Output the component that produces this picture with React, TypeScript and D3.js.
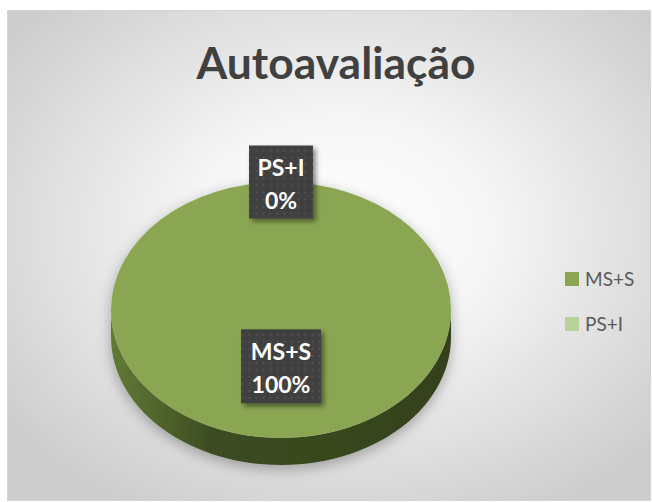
import * as d3 from "d3";

// chart data
const categories = ["MS+S", "PS+I"];
const values = [100, 0];
const colors = ["#8aa652", "#b9d19b"];
const title = "Autoavaliação";

const W = 652;
const H = 502;

export default function App() {
  const cx = 281;
  const cy = 310;
  const rx = 170;
  const ry = 128;
  const depth = 27;
  const k = ry / rx;

  const pie = d3.pie<number>().sort(null).startAngle(0).endAngle(2 * Math.PI);
  const arcs = pie(values);
  const arc = d3.arc<d3.PieArcDatum<number>>().innerRadius(0).outerRadius(rx);

  // side band of the tilted disc (front half)
  const side = d3.path();
  side.moveTo(cx - rx, cy);
  side.lineTo(cx - rx, cy + depth);
  const steps = 60;
  for (let i = 0; i <= steps; i++) {
    const a = Math.PI - (Math.PI * i) / steps;
    side.lineTo(cx + rx * Math.cos(a), cy + depth + ry * Math.sin(a));
  }
  side.lineTo(cx + rx, cy);
  for (let i = 0; i <= steps; i++) {
    const a = (Math.PI * i) / steps;
    side.lineTo(cx + rx * Math.cos(a), cy + ry * Math.sin(a));
  }
  side.closePath();

  const total = d3.sum(values);
  const font = "Lato, 'Open Sans', sans-serif";

  const labelPos = (d: d3.PieArcDatum<number>) => {
    const r = d.value === 0 ? rx : rx * 0.44;
    const mid = (d.startAngle + d.endAngle) / 2;
    return [cx + r * Math.sin(mid), cy - r * Math.cos(mid) * k];
  };

  return (
    <div style={{ position: "absolute", left: 0, top: 0 }}>
      <svg width={W} height={H}>
        <defs>
          <radialGradient id="bg" cx="52%" cy="45%" r="65%">
            <stop offset="0%" stopColor="#ffffff" />
            <stop offset="35%" stopColor="#f6f6f6" />
            <stop offset="100%" stopColor="#cdcdcd" />
          </radialGradient>
          <linearGradient id="sideGrad" x1="0" x2="1" y1="0" y2="0">
            <stop offset="0%" stopColor="#617a36" />
            <stop offset="30%" stopColor="#3c4c21" />
            <stop offset="100%" stopColor="#33411b" />
          </linearGradient>
          <pattern id="dots" width="7" height="7" patternUnits="userSpaceOnUse">
            <rect width="7" height="7" fill="#3f3f3f" />
            <circle cx="3.5" cy="3.5" r="1" fill="#575757" />
          </pattern>
          <filter id="pieShadow" x="-20%" y="-20%" width="140%" height="150%">
            <feDropShadow dx="0" dy="4" stdDeviation="7" floodColor="#000" floodOpacity="0.3" />
          </filter>
          <filter id="boxShadow" x="-20%" y="-20%" width="150%" height="150%">
            <feDropShadow dx="3" dy="3" stdDeviation="2.5" floodColor="#000" floodOpacity="0.45" />
          </filter>
        </defs>
        <rect x={7.5} y={10.5} width={643} height={490} fill="url(#bg)" stroke="#d4d4d4" />
        <text
          x={336}
          y={79}
          textAnchor="middle"
          fontFamily={font}
          fontWeight="bold"
          fontSize={44}
          textLength={279}
          lengthAdjust="spacingAndGlyphs"
          fill="#404040"
        >
          {title}
        </text>

        <g filter="url(#pieShadow)">
          <path d={side.toString()} fill="url(#sideGrad)" />
          <g transform={`translate(${cx},${cy}) scale(1,${k})`}>
            {arcs.map((d, i) => (
              <path key={i} d={arc(d) || ""} fill={colors[i]} />
            ))}
          </g>
        </g>

        {arcs.map((d, i) => {
          const [lx, ly] = labelPos(d);
          const pct = Math.round((d.value / total) * 100) + "%";
          const bw = d.value === 0 ? 64 : 80;
          const bh = d.value === 0 ? 73 : 74;
          return (
            <g key={i} transform={`translate(${lx},${ly})`}>
              <rect
                x={-bw / 2}
                y={-bh / 2}
                width={bw}
                height={bh}
                fill="url(#dots)"
                filter="url(#boxShadow)"
              />
              <text
                textAnchor="middle"
                fontFamily={font}
                fontWeight="bold"
                fontSize={23}
                fill="#ffffff"
              >
                <tspan x={0} y={-6}>
                  {categories[i]}
                </tspan>
                <tspan x={0} y={27}>
                  {pct}
                </tspan>
              </text>
            </g>
          );
        })}

        {categories.map((c, i) => (
          <g key={c} transform={`translate(565,${272 + i * 45})`}>
            <rect width={14} height={14} fill={colors[i]} />
            <text x={20} y={14} fontFamily={font} fontSize={19} fill="#595959">
              {c}
            </text>
          </g>
        ))}
      </svg>
    </div>
  );
}
